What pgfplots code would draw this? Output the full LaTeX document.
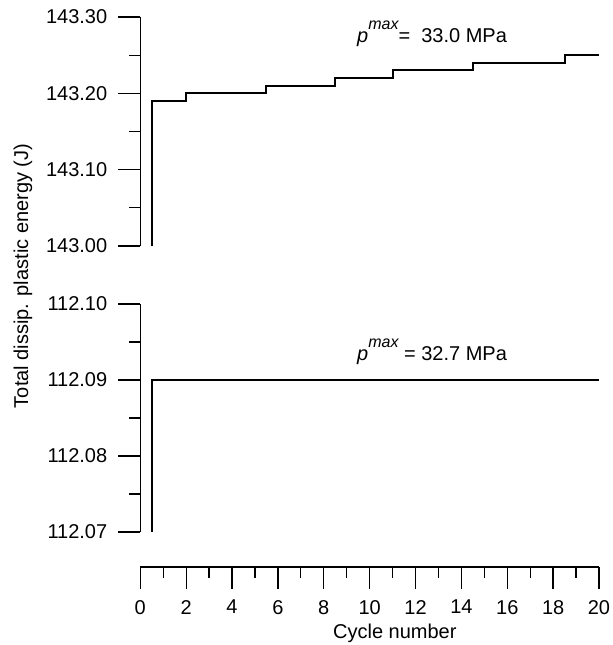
\documentclass[border=0pt]{standalone}
\usepackage{pgfplots}
\pgfplotsset{compat=1.18}
\usepackage{fontspec}
\setmainfont{Liberation Sans}

\newcommand{\pmax}{\textit{p}\raisebox{1.2ex}{\fontsize{8}{9}\selectfont\itshape max}}

\pgfplotsset{
  every axis/.append style={
    scale only axis, clip=false,
    font=\fontsize{10}{12}\selectfont,
    /pgf/number format/assume math mode=true,
    xmin=0, xmax=20,
  },
  lines/.style={
    axis line style={-, line width=0.65pt},
    every outer x axis line/.append style={-},
    every outer y axis line/.append style={-},
    tick style={line width=0.65pt, black},
    tick align=outside,
    major tick length=11pt, minor tick length=5.5pt,
  },
  ylab/.style={yticklabel style={xshift=-2pt, /pgf/number format/.cd, fixed, fixed zerofill, precision=2}},
}

\begin{document}
\begin{tikzpicture}
\path[use as bounding box] (0pt,0pt) rectangle (306.5pt,322.5pt);

% upper panel
\begin{axis}[
    at={(70.15pt,199.5pt)}, anchor=south west,
    width=229.35pt, height=114.5pt,
    ymin=143.00, ymax=143.30,
    axis x line=none, axis y line=left, lines,
    ytick={143.00,143.10,143.20,143.30},
    minor ytick={143.05,143.15,143.25},
    ylab,
]
\addplot[const plot, line width=1pt, black] coordinates {
(0.5,143.00) (0.5,143.19) (2,143.20) (5.5,143.21) (8.5,143.22) (11,143.23) (14.5,143.24) (18.5,143.25) (20,143.25)
};
\node[anchor=base west] at (axis cs:9.15,143.267) {\pmax=\ \ 33.0 MPa};
\end{axis}

% lower panel
\begin{axis}[
    at={(70.15pt,56.5pt)}, anchor=south west,
    width=229.35pt, height=114pt,
    ymin=112.07, ymax=112.10,
    axis x line=none, axis y line=left, lines,
    ytick={112.07,112.08,112.09,112.10},
    minor ytick={112.075,112.085,112.095},
    ylab,
]
\addplot[line width=1pt, black] coordinates {
(0.5,112.07) (0.5,112.09) (20,112.09)
};
\node[anchor=base west] at (axis cs:9.15,112.0926) {\pmax\ = 32.7 MPa};
\end{axis}

% shared x axis
\begin{axis}[
    at={(70.15pt,39pt)}, anchor=south west,
    width=229.35pt, height=1pt,
    ymin=0, ymax=1,
    axis x line=bottom, axis y line=none, lines,
    xtick={0,2,...,20},
    minor xtick={1,3,...,19},
    xticklabel style={yshift=-2pt},
    xlabel={Cycle number},
    xlabel style={at={(axis description cs:0.555,0)}, anchor=north, yshift=-25pt},
]
\end{axis}

\node[rotate=90] at (11.5pt,184.5pt) {\fontsize{10}{12}\selectfont Total dissip. plastic energy (J)};
\end{tikzpicture}
\end{document}
